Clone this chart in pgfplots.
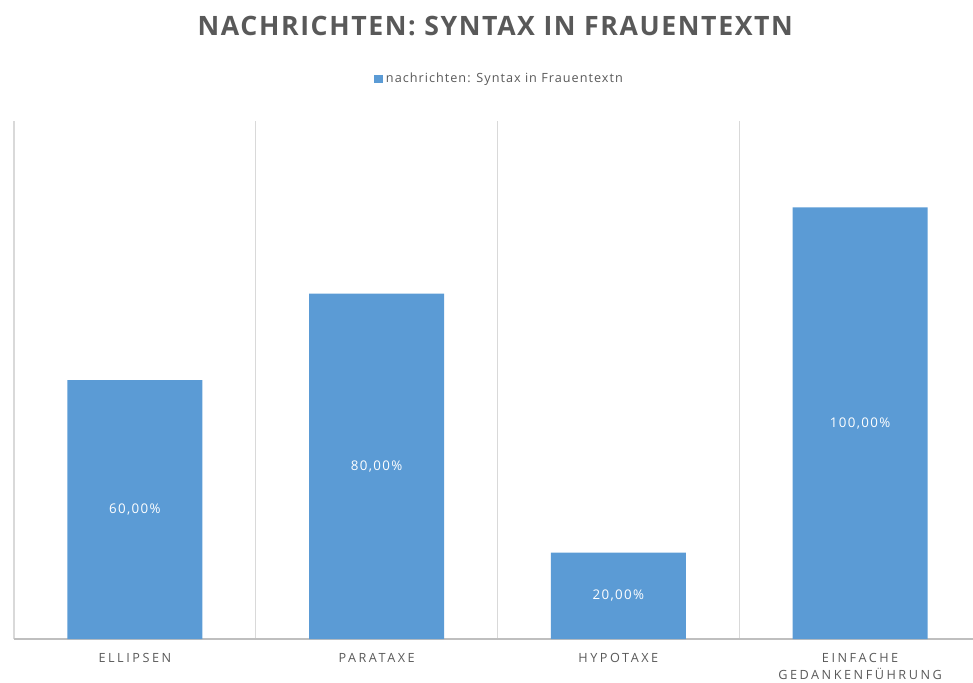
\documentclass[border=0pt]{standalone}
\usepackage{pgfplots}
\pgfplotsset{compat=1.18}
\usepackage{fontspec}
\setmainfont{Open Sans}
\newfontfamily\titlefont[LetterSpace=6]{Open Sans}
\newfontfamily\tickfont[LetterSpace=20]{Open Sans}
\newfontfamily\legfont[LetterSpace=8]{Open Sans}
\newfontfamily\labfont[LetterSpace=10]{Open Sans}
\definecolor{barblue}{HTML}{5B9BD5}
\definecolor{txtgray}{HTML}{595959}
\definecolor{gridgray}{HTML}{D9D9D9}
\definecolor{axisgray}{HTML}{BFBFBF}
\begin{document}
\begin{tikzpicture}
\useasboundingbox (0,0) rectangle (729.75pt,-511.5pt);
\begin{axis}[
  at={(10.5pt,-479.25pt)}, anchor=south west,
  scale only axis, width=725.25pt, height=388.5pt,
  xmin=-0.5, xmax=3.5, ymin=0, ymax=1.2,
  enlargelimits=false,
  axis x line*=bottom, axis y line=none,
  x axis line style={draw=axisgray, line width=0.8pt, -},
  xtick={0,1,2,3},
  xticklabels={ELLIPSEN,PARATAXE,HYPOTAXE,{EINFACHE\\GEDANKENFÜHRUNG}},
  xticklabel style={font=\tickfont\fontsize{9.5}{12.5}\selectfont, text=txtgray, align=center, yshift=-7.5pt, anchor=north},
  major tick length=0pt, minor tick length=0pt,
  minor xtick={-0.5,0.5,1.5,2.5},
  xminorgrids, minor grid style={draw=gridgray, line width=1.1pt},
  ytick=\empty,
  ybar, bar width=101.25pt,
  clip=false,
  point meta=explicit symbolic,
  nodes near coords,
  visualization depends on={y \as \rawy},
  every node near coord/.append style={font=\labfont\fontsize{10}{12}\selectfont, text=white, anchor=center, shift={(axis direction cs:0,-\rawy/2)}},
  legend style={at={(0.372,1.081)}, anchor=west, draw=none, fill=none, font=\legfont\fontsize{9.5}{11}\selectfont, text=txtgray, inner sep=0pt, legend cell align=left},
  legend image code/.code={\fill[barblue] (0pt,-3.3pt) rectangle (7pt,3.3pt);},
]
\addplot[fill=barblue, draw=none] coordinates {
  (0,0.6) [60,00\%]
  (1,0.8) [80,00\%]
  (2,0.2) [20,00\%]
  (3,1.0) [100,00\%]
};
\addlegendentry{nachrichten: Syntax in Frauentextn}
\end{axis}
\node[font=\titlefont\bfseries\fontsize{20}{24}\selectfont, text=txtgray] at (371.5pt,-19.5pt) {NACHRICHTEN: SYNTAX IN FRAUENTEXTN};
\end{tikzpicture}
\end{document}
